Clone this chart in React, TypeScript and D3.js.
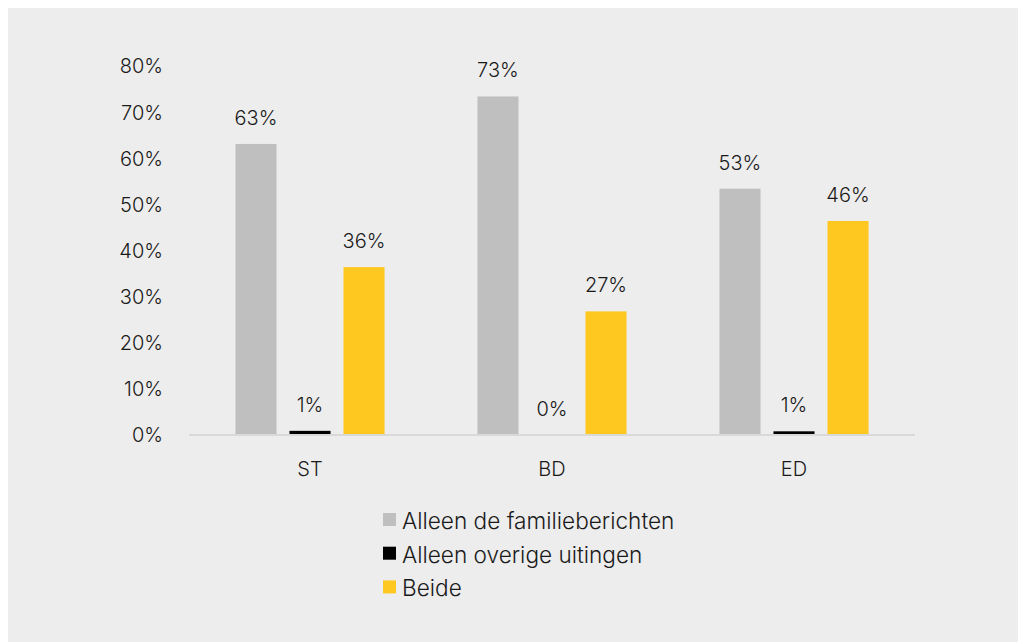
import React, { useEffect, useRef } from 'react';
import * as d3 from 'd3';

const categories = ['ST', 'BD', 'ED'];
const series = ['Alleen de familieberichten', 'Alleen overige uitingen', 'Beide'];
const colors = ['#bfbfbf', '#000000', '#ffc820'];
// percentages per series, per category
const familie = [63.1, 73.4, 53.4];
const overige = [0.9, 0, 0.8];
const beide = [36.4, 26.8, 46.4];
const yTicks = [0, 10, 20, 30, 40, 50, 60, 70, 80];

const width = 1018;
const height = 634;
const FONT = 'Inter, sans-serif';

const App: React.FC = () => {
  const svgRef = useRef<SVGSVGElement>(null);

  useEffect(() => {
    document.body.style.overflow = 'hidden';
    if (!svgRef.current) return;
    const svg = d3.select(svgRef.current);
    svg.selectAll('*').remove();

    // svg origin is at page (8,8)
    const g = svg.append('g')
      .attr('transform', 'translate(-8,-8)')
      .style('font-family', FONT)
      .style('font-weight', 300)
      .style('fill', '#1a1a1a');

    const values = [familie, overige, beide];

    const x0 = d3.scaleBand<string>().domain(categories).range([189, 915]);
    const x1 = d3.scaleBand<string>()
      .domain(series)
      .range([0, x0.bandwidth()])
      .paddingInner(0.24)
      .paddingOuter(0.86);
    const y = d3.scaleLinear().domain([0, 80]).range([435, 66]);

    // y labels
    g.append('g')
      .selectAll('text')
      .data(yTicks)
      .enter()
      .append('text')
      .attr('x', 163)
      .attr('y', d => y(d))
      .attr('dy', '0.37em')
      .attr('text-anchor', 'end')
      .style('font-size', '20px')
      .text(d => `${d}%`);

    // bars
    series.forEach((s, si) => {
      g.append('g')
        .selectAll('rect')
        .data(categories)
        .enter()
        .append('rect')
        .attr('x', c => x0(c)! + x1(s)!)
        .attr('y', (c, ci) => y(values[si][ci]))
        .attr('width', x1.bandwidth())
        .attr('height', (c, ci) => y(0) - y(values[si][ci]))
        .attr('fill', colors[si]);

      g.append('g')
        .selectAll('text')
        .data(categories)
        .enter()
        .append('text')
        .attr('x', c => x0(c)! + x1(s)! + x1.bandwidth() / 2)
        .attr('y', (c, ci) => y(values[si][ci]) - 19)
        .attr('text-anchor', 'middle')
        .style('font-size', '20px')
        .text((c, ci) => d3.format('.0f')(values[si][ci]) + '%');
    });

    // baseline
    g.append('line')
      .attr('x1', 189)
      .attr('x2', 915)
      .attr('y1', y(0))
      .attr('y2', y(0))
      .attr('stroke', '#d9d9d9')
      .attr('stroke-width', 2);

    // category labels
    g.append('g')
      .selectAll('text')
      .data(categories)
      .enter()
      .append('text')
      .attr('x', c => x0(c)! + x0.bandwidth() / 2)
      .attr('y', 476)
      .attr('text-anchor', 'middle')
      .style('font-size', '20px')
      .text(c => c);

    // legend
    const legend = g.append('g').attr('transform', 'translate(383,0)');
    series.forEach((s, i) => {
      const base = 529 + i * 33.7;
      legend.append('rect')
        .attr('x', 0)
        .attr('y', base - 16)
        .attr('width', 13)
        .attr('height', 13)
        .attr('fill', colors[i]);
      legend.append('text')
        .attr('x', 19)
        .attr('y', base)
        .style('font-size', '22.6px')
        .text(s);
    });
  }, []);

  return (
    <svg
      ref={svgRef}
      width={width}
      height={height}
      style={{ display: 'block', background: '#ededed' }}
    />
  );
};

export default App;
